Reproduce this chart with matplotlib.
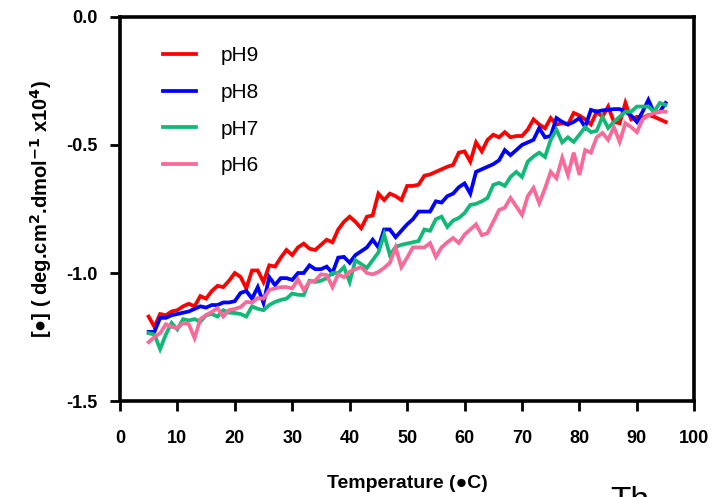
import matplotlib
matplotlib.use("Agg")
import matplotlib.pyplot as plt

# Temperature scan (deg C), one reading per degree
temperature = list(range(5, 96))

ph9 = [-1.17, -1.21, -1.16, -1.165, -1.15, -1.145, -1.13, -1.12, -1.13, -1.09,
       -1.10, -1.07, -1.05, -1.055, -1.03, -1.00, -1.015, -1.06, -0.99, -0.99,
       -1.035, -0.97, -0.975, -0.94, -0.91, -0.93, -0.90, -0.885, -0.905, -0.91,
       -0.89, -0.87, -0.88, -0.83, -0.80, -0.78, -0.80, -0.825, -0.78, -0.775,
       -0.69, -0.715, -0.69, -0.70, -0.715, -0.66, -0.66, -0.655, -0.62, -0.615,
       -0.605, -0.595, -0.585, -0.578, -0.53, -0.525, -0.565, -0.49, -0.525, -0.48,
       -0.46, -0.47, -0.45, -0.47, -0.465, -0.465, -0.44, -0.40, -0.42, -0.435,
       -0.395, -0.42, -0.415, -0.42, -0.375, -0.385, -0.40, -0.42, -0.37, -0.39,
       -0.35, -0.41, -0.415, -0.336, -0.40, -0.39, -0.395, -0.383, -0.39, -0.40,
       -0.41]

ph8 = [-1.23, -1.23, -1.175, -1.175, -1.165, -1.16, -1.155, -1.15, -1.14, -1.13,
       -1.135, -1.125, -1.125, -1.115, -1.115, -1.11, -1.078, -1.07, -1.10, -1.055,
       -1.117, -1.016, -1.047, -1.02, -1.02, -1.027, -1.00, -1.00, -0.97, -0.985,
       -0.985, -0.975, -1.00, -0.94, -0.937, -0.96, -0.93, -0.915, -0.90, -0.87,
       -0.90, -0.83, -0.83, -0.86, -0.835, -0.81, -0.79, -0.76, -0.76, -0.76,
       -0.72, -0.725, -0.70, -0.69, -0.665, -0.65, -0.69, -0.605, -0.595, -0.585,
       -0.575, -0.56, -0.52, -0.54, -0.52, -0.50, -0.49, -0.48, -0.434, -0.47,
       -0.465, -0.395, -0.41, -0.42, -0.41, -0.395, -0.43, -0.363, -0.37, -0.365,
       -0.363, -0.36, -0.36, -0.37, -0.385, -0.41, -0.37, -0.324, -0.375, -0.37,
       -0.336]

ph7 = [-1.235, -1.24, -1.297, -1.24, -1.195, -1.22, -1.18, -1.185, -1.18, -1.19,
       -1.165, -1.16, -1.17, -1.145, -1.155, -1.156, -1.16, -1.17, -1.13, -1.14,
       -1.145, -1.125, -1.113, -1.105, -1.10, -1.08, -1.085, -1.086, -1.03, -1.035,
       -1.03, -1.02, -1.00, -1.00, -0.977, -1.035, -0.95, -0.965, -0.98, -0.95,
       -0.92, -0.85, -0.93, -0.898, -0.89, -0.885, -0.88, -0.875, -0.83, -0.835,
       -0.79, -0.78, -0.82, -0.795, -0.785, -0.766, -0.734, -0.73, -0.72, -0.707,
       -0.656, -0.648, -0.66, -0.625, -0.605, -0.625, -0.565, -0.545, -0.53, -0.547,
       -0.48, -0.44, -0.49, -0.47, -0.488, -0.46, -0.43, -0.45, -0.445, -0.39,
       -0.434, -0.41, -0.39, -0.37, -0.37, -0.35, -0.35, -0.35, -0.37, -0.336,
       -0.343]

ph6 = [-1.27, -1.25, -1.235, -1.20, -1.21, -1.215, -1.195, -1.20, -1.254, -1.18,
       -1.164, -1.152, -1.137, -1.17, -1.145, -1.14, -1.133, -1.113, -1.115, -1.098,
       -1.10, -1.066, -1.06, -1.055, -1.055, -1.06, -1.025, -1.066, -1.035, -1.03,
       -1.005, -1.008, -1.055, -1.005, -1.016, -0.995, -0.985, -0.977, -1.00, -1.005,
       -0.996, -0.98, -0.96, -0.90, -0.977, -0.94, -0.90, -0.90, -0.90, -0.883,
       -0.937, -0.90, -0.88, -0.863, -0.883, -0.85, -0.83, -0.81, -0.852, -0.844,
       -0.80, -0.754, -0.745, -0.707, -0.74, -0.773, -0.70, -0.668, -0.727, -0.67,
       -0.605, -0.63, -0.55, -0.617, -0.53, -0.617, -0.52, -0.53, -0.47, -0.453,
       -0.48, -0.43, -0.488, -0.415, -0.43, -0.45, -0.40, -0.385, -0.375, -0.37,
       -0.37]

series = [("pH9", ph9, "#ff0000"),
          ("pH8", ph8, "#0000ff"),
          ("pH7", ph7, "#10b976"),
          ("pH6", ph6, "#fa6a98")]

x_ticks = list(range(0, 101, 10))
y_ticks = [0.0, -0.5, -1.0, -1.5]

plt.rcParams['font.family'] = ['Liberation Sans', 'DejaVu Sans']

fig = plt.figure(figsize=(7.18, 4.97), dpi=100)
ax = fig.add_axes([0.167, 0.193, 0.8, 0.773])

for name, vals, col in series:
    ax.plot(temperature, vals, color=col, lw=2.7, label=name,
            solid_joinstyle='miter')

ax.set_xlim(0, 100)
ax.set_ylim(-1.5, 0.0)
ax.set_xticks(x_ticks)
ax.set_yticks(y_ticks)
ax.set_yticklabels([f"{v:.1f}" for v in y_ticks])

for s in ax.spines.values():
    s.set_linewidth(2.6)
ax.tick_params(axis='x', direction='out', length=7, width=2, labelsize=13, pad=14)
ax.tick_params(axis='y', direction='out', length=7, width=2, labelsize=13, pad=9)
for lab in ax.get_xticklabels() + ax.get_yticklabels():
    lab.set_fontweight('bold')

ax.set_xlabel("Temperature (\u25cfC)", fontsize=14, fontweight='bold', labelpad=20)
ax.set_ylabel("[\u25cf] ( deg.cm$^{\\mathbf{2}}$.dmol$^{\\mathbf{-1}}$ x10$^{\\mathbf{4}}$)",
              fontsize=14.5, fontweight='bold', labelpad=9)

leg = ax.legend(loc='upper left', frameon=False, fontsize=15, handlelength=1.6,
                handletextpad=1.2, labelspacing=0.85, borderaxespad=0.0,
                bbox_to_anchor=(0.06, 0.945))

# cut-off text below the figure, as in the source image
fig.text(0.85, 0.022, "Th", fontsize=24, va='top', ha='left')

fig.savefig("out.png", dpi=100)
